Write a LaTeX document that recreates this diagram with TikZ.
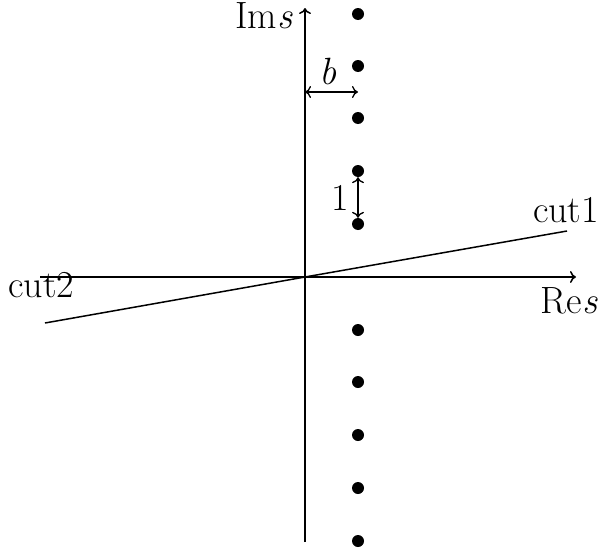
\documentclass[tikz,border=0pt]{standalone}
\usepackage{fontspec}
\usetikzlibrary{arrows.meta}
\begin{document}
\begin{tikzpicture}[x=1pt,y=-1pt,
  tip/.tip={To[length=6pt,width=12pt]},
  ax/.style={line width=1.5pt,-tip},
  dbl/.style={line width=1.3pt,tip-tip},
  cutline/.style={line width=1.5pt},
  pole/.style={circle,fill=black,inner sep=0pt,minimum size=12pt},
  lbl/.style={inner sep=0pt,font=\fontsize{38}{45}\selectfont}]
\useasboundingbox (0,0) rectangle (600,554);
\coordinate (O) at (305,277);
\coordinate (xl) at (40,277);
\coordinate (xr) at (576,277);
\coordinate (yb) at (305,542);
\coordinate (yt) at (305,8);
\coordinate (c1) at (567,231);
\coordinate (c2) at (45,323);
\coordinate (bl) at (305,92);
\coordinate (br) at (358,92);
\draw[ax] (xl) -- (xr);
\draw[ax] (yb) -- (yt);
\draw[cutline] (c2) -- (O) -- (c1);
\foreach \i/\y in {1/14,2/66,3/118,4/171,5/224,6/330,7/382,8/435,9/488,10/541}
  \node[pole] (p\i) at (358,\y) {};
\draw[dbl] (bl) -- (br);
\draw[dbl] (p4.south) -- (p5.north);
\node[lbl] (lb) at (328,72) {\textit{b}};
\node[lbl] (l1) at (340,198) {1};
\node[lbl,anchor=base east] (lc1) at (599,222) {cut1};
\node[lbl,anchor=base west] (lc2) at (8,297) {cut2};
\node[lbl,anchor=base east] (lre) at (598,313) {Re\textit{s}};
\node[lbl,anchor=base east] (lim) at (293,28) {Im\textit{s}};
\end{tikzpicture}
\end{document}
